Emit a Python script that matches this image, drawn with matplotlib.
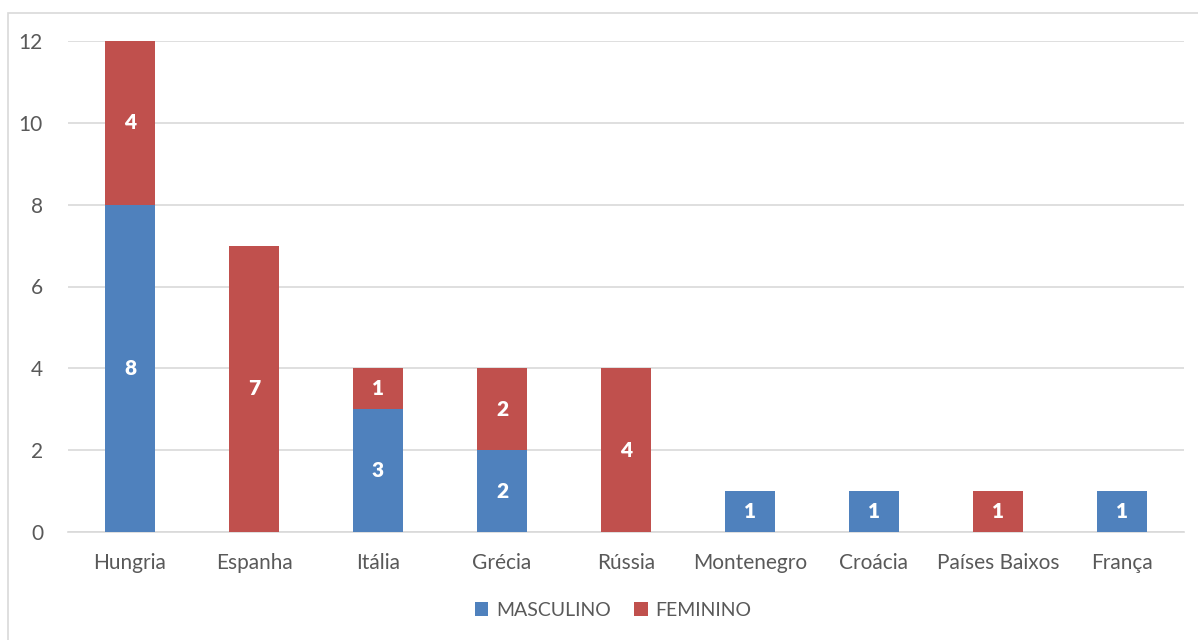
import matplotlib.pyplot as plt
from matplotlib.patches import Rectangle

paises = ['Hungria', 'Espanha', 'Itália', 'Grécia', 'Rússia',
          'Montenegro', 'Croácia', 'Países Baixos', 'França']
masculino = [8, 0, 3, 2, 0, 1, 1, 0, 1]
feminino = [4, 7, 1, 2, 4, 0, 0, 1, 0]
y_ticks = [0, 2, 4, 6, 8, 10, 12]

azul = '#4f81bd'
vermelho = '#c0504d'
cinza_txt = '#595959'
cinza_linha = '#d9d9d9'

plt.rcParams['font.family'] = ['Lato', 'DejaVu Sans']

fig = plt.figure(figsize=(11.98, 6.4), dpi=100)
ax = fig.add_axes([68 / 1198, 108 / 640, 1116 / 1198, 491 / 640])

# moldura do gráfico
fig.patches.append(Rectangle((8 / 1198, -0.01), 1.0, 1 - 13 / 640 + 0.01,
                             transform=fig.transFigure, fill=False,
                             edgecolor=cinza_linha, linewidth=1.2))

x = range(len(paises))
b1 = ax.bar(x, masculino, width=0.4, color=azul, label='MASCULINO', zorder=3)
b2 = ax.bar(x, feminino, width=0.4, bottom=masculino, color=vermelho,
            label='FEMININO', zorder=3)

# rótulos dentro das barras (só valores não nulos)
for i in x:
    if masculino[i]:
        ax.text(i, masculino[i] / 2, str(masculino[i]), ha='center', va='center',
                color='white', fontsize=15, fontweight='heavy', zorder=4)
    if feminino[i]:
        ax.text(i, masculino[i] + feminino[i] / 2, str(feminino[i]), ha='center',
                va='center', color='white', fontsize=15, fontweight='heavy', zorder=4)

ax.set_xlim(-0.5, len(paises) - 0.5)
ax.set_ylim(0, 12)
ax.set_yticks(y_ticks)
ax.set_xticks(list(x))
ax.set_xticklabels(paises)
ax.tick_params(axis='both', length=0, labelsize=15, labelcolor=cinza_txt)
ax.tick_params(axis='y', pad=18)
ax.tick_params(axis='x', pad=15)
ax.grid(axis='y', color=cinza_linha, linewidth=1.2, zorder=0)
for lado in ['top', 'right', 'left']:
    ax.spines[lado].set_visible(False)
ax.spines['bottom'].set_color(cinza_linha)
ax.spines['bottom'].set_linewidth(1.2)

fig.legend(handles=[b1, b2], loc='center', bbox_to_anchor=(613 / 1198, 1 - 610 / 640),
           ncol=2, frameon=False, fontsize=14, handlelength=0.7, handleheight=0.7,
           handletextpad=0.4, columnspacing=1.2, labelcolor=cinza_txt)

fig.savefig('out.png', dpi=100)
